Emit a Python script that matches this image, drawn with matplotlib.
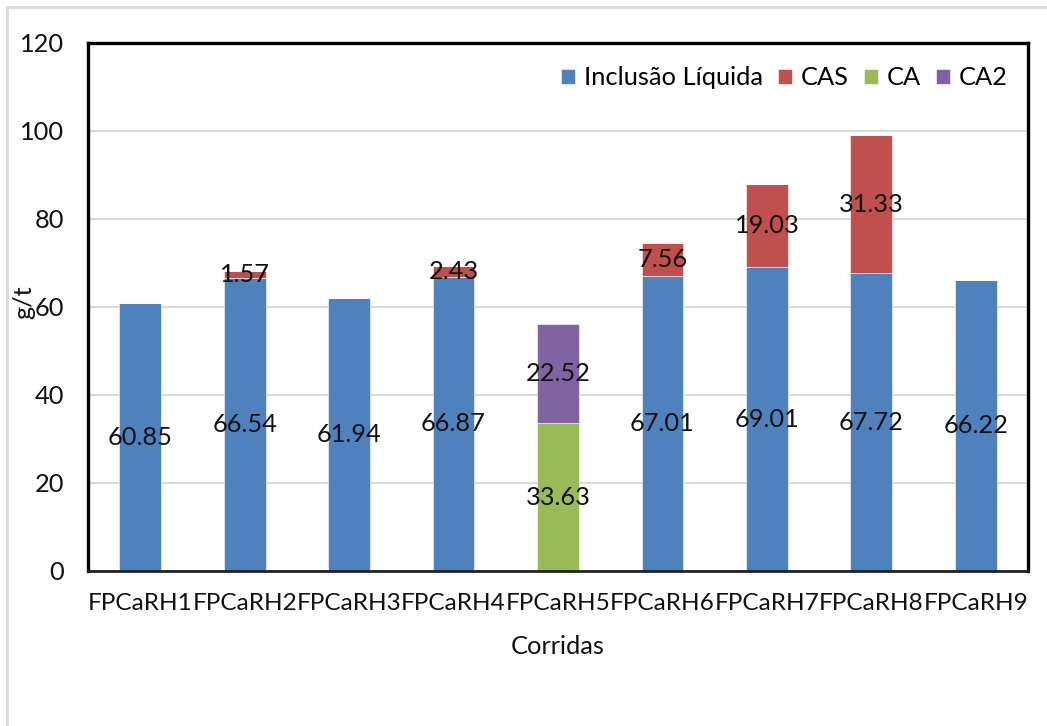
import matplotlib
matplotlib.use("Agg")
import matplotlib.pyplot as plt
import numpy as np
from matplotlib.lines import Line2D

plt.rcParams['font.family'] = ['Lato', 'DejaVu Sans']

categories = ["FPCaRH1", "FPCaRH2", "FPCaRH3", "FPCaRH4", "FPCaRH5",
              "FPCaRH6", "FPCaRH7", "FPCaRH8", "FPCaRH9"]
inclusao = [60.85, 66.54, 61.94, 66.87, 0, 67.01, 69.01, 67.72, 66.22]
cas = [0, 1.57, 0, 2.43, 0, 7.56, 19.03, 31.33, 0]
ca = [0, 0, 0, 0, 33.63, 0, 0, 0, 0]
ca2 = [0, 0, 0, 0, 22.52, 0, 0, 0, 0]

series = [("Inclusão Líquida", inclusao, "#4F81BD"),
          ("CAS", cas, "#C0504D"),
          ("CA", ca, "#9BBB59"),
          ("CA2", ca2, "#8064A2")]

FS = 18.3
W, H = 1047, 726
fig = plt.figure(figsize=(W / 100, H / 100), dpi=100)
ax = fig.add_axes([88 / W, 1 - 571 / H, (1028 - 88) / W, (571 - 43) / H])

x = np.arange(len(categories))
bottom = np.zeros(len(categories))
for name, vals, color in series:
    vals = np.array(vals, dtype=float)
    ax.bar(x, vals, 0.4, bottom=bottom, color=color, label=name,
           edgecolor="white", linewidth=0.4, zorder=2)
    for xi, b, v in zip(x, bottom, vals):
        if v > 0:
            ax.text(xi, b + v / 2, f"{v:.2f}", ha="center", va="center",
                    fontsize=FS, color="#111111", zorder=3)
    bottom += vals

ax.set_xlim(-0.5, len(categories) - 0.5)
ax.set_ylim(0, 120)
ax.set_yticks(np.arange(0, 121, 20))
ax.yaxis.grid(True, color="#d9d9d9", linewidth=1.5, zorder=0)
ax.set_axisbelow(True)
ax.set_xticks(x)
ax.set_xticklabels(categories, fontsize=17.6)
ax.tick_params(axis="both", length=0, colors="#111111")
ax.tick_params(axis="y", pad=17, labelsize=FS)
ax.tick_params(axis="x", pad=16)

for side in ["left", "top", "right"]:
    ax.spines[side].set_linewidth(2.4)
    ax.spines[side].set_color("black")
ax.spines["bottom"].set_linewidth(2.0)
ax.spines["bottom"].set_color("#222222")

ax.set_xlabel("Corridas", fontsize=FS, color="#111111", labelpad=15)
fig.text(24 / W, 1 - 302 / H, "g/t", rotation=90, fontsize=FS,
         color="#111111", ha="center", va="center")

leg = ax.legend(loc="upper right", ncol=4, frameon=False, fontsize=FS,
                handlelength=0.55, handleheight=0.55, handletextpad=0.35,
                columnspacing=0.6, bbox_to_anchor=(0.995, 0.985),
                borderaxespad=0.2)

# light frame around the figure
fig.add_artist(Line2D([7 / W, 7 / W], [0, 1 - 7 / H], transform=fig.transFigure,
                      color="#d9d9d9", linewidth=2))
fig.add_artist(Line2D([7 / W, 1], [1 - 7 / H, 1 - 7 / H], transform=fig.transFigure,
                      color="#d9d9d9", linewidth=2))

fig.savefig("out.png", dpi=100)
